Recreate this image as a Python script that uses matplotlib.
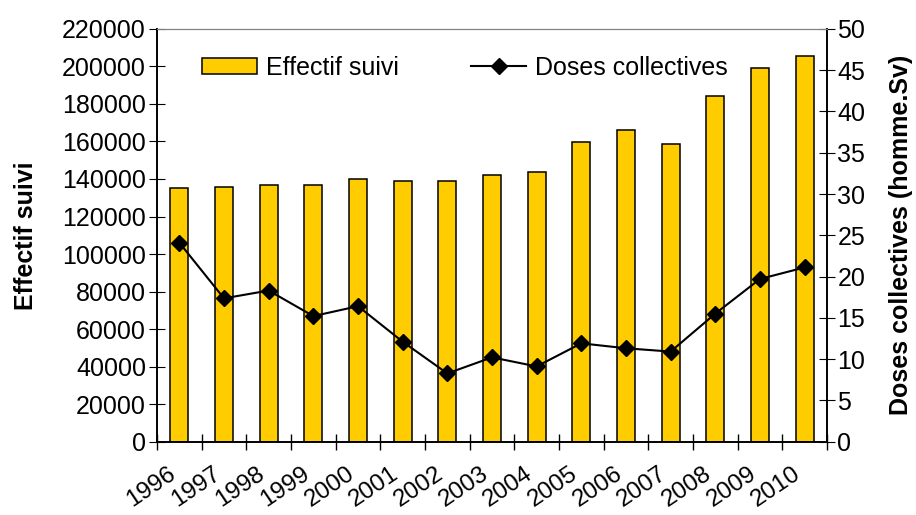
import matplotlib.pyplot as plt
import matplotlib.transforms as mtransforms
import numpy as np

plt.rcParams['font.family'] = ['Liberation Sans', 'DejaVu Sans']

# data
years = ['1996', '1997', '1998', '1999', '2000', '2001', '2002', '2003',
         '2004', '2005', '2006', '2007', '2008', '2009', '2010']
effectif = [135000, 136000, 137000, 137000, 140000, 139000, 139000, 142000,
            143500, 159500, 166000, 158500, 184000, 199000, 205500]
doses = [24.1, 17.35, 18.3, 15.2, 16.4, 12.1, 8.25, 10.2,
         9.1, 11.9, 11.3, 10.9, 15.5, 19.7, 21.1]

fig = plt.figure(figsize=(9.16, 5.15), dpi=100)
ax = fig.add_axes([0.1714, 0.1427, 0.7314, 0.801])
ax2 = ax.twinx()

x = np.arange(len(years))
bars = ax.bar(x, effectif, width=0.405, color='#FFCC00', edgecolor='black',
              linewidth=1.1, label='Effectif suivi', zorder=2)
line, = ax2.plot(x, doses, color='black', lw=1.5, marker='D', markersize=8,
                 label='Doses collectives', zorder=3)

ax.set_xlim(-0.5, len(years) - 0.5)
ax.set_ylim(0, 220000)
ax2.set_ylim(0, 50)
ax.set_yticks(np.arange(0, 220001, 20000))
ax2.set_yticks(np.arange(0, 51, 5))

# x ticks between categories, labels rotated
ax.set_xticks(np.arange(-0.5, len(years), 1), minor=False)
ax.set_xticklabels([])
ax.set_xticks(x, minor=True)
ax.set_xticklabels(years, minor=True, rotation=34, ha='right',
                   rotation_mode='anchor', fontsize=17.5)
ax.tick_params(axis='x', which='minor', length=0, pad=15)
ax.tick_params(axis='x', which='major', direction='inout', length=11, width=1)
offset = mtransforms.ScaledTranslation(-0.12, 0, fig.dpi_scale_trans)
for lab in ax.get_xticklabels(minor=True):
    lab.set_transform(lab.get_transform() + offset)

ax.tick_params(axis='y', direction='inout', length=12, labelsize=18, pad=2)
ax2.tick_params(axis='y', direction='inout', length=11, labelsize=18, pad=2)

ax.set_ylabel('Effectif suivi', fontsize=18, fontweight='bold', labelpad=17)
ax2.set_ylabel('Doses collectives (homme.Sv)', fontsize=18, fontweight='bold',
               labelpad=17)

for a in (ax, ax2):
    a.spines['top'].set_color('0.5')
    for s in ('left', 'right', 'bottom'):
        a.spines[s].set_linewidth(1.2)

ax.legend([bars, line], ['Effectif suivi', 'Doses collectives'], ncol=2,
          frameon=False, loc='upper left', bbox_to_anchor=(0.034, 0.99),
          fontsize=18, handlelength=2.2, handleheight=0.6, columnspacing=2.9,
          handletextpad=0.35)

fig.savefig('out.png', dpi=100)
